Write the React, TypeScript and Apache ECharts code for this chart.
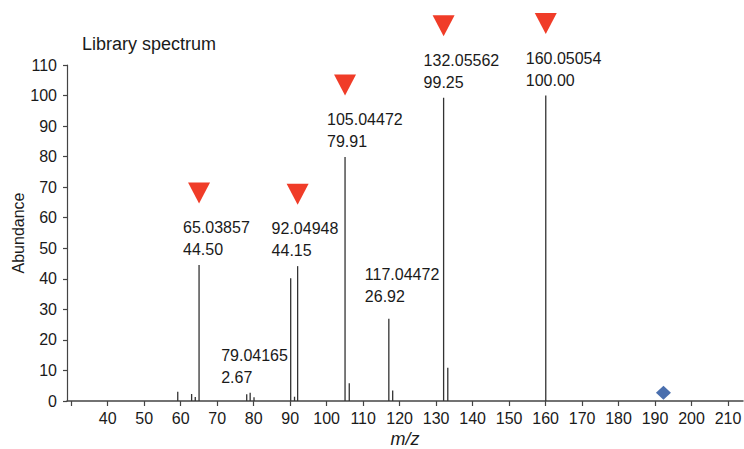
import React, { useEffect, useRef } from "react";
import * as echarts from "echarts";

// Stick spectrum: m/z and abundance (%)
const peakMz = [59.2, 63.0, 64.0, 65.03857, 78.1, 79.04165, 80.1, 90.15, 91.2, 92.04948, 105.04472, 106.2, 117.04472, 118.1, 132.05562, 133.2, 160.05054];
const peakAbundance = [3.0, 2.3, 1.3, 44.5, 2.2, 2.67, 1.2, 40.2, 1.4, 44.15, 79.91, 5.8, 26.92, 3.4, 99.25, 10.9, 100.0];

// Annotated peaks
const labelMz = [65.03857, 79.04165, 92.04948, 105.04472, 117.04472, 132.05562, 160.05054];
const labelAbundance = [44.5, 2.67, 44.15, 79.91, 26.92, 99.25, 100.0];

// Peaks flagged with a red marker
const markedMz = [65.03857, 92.04948, 105.04472, 132.05562, 160.05054];
const markedAbundance = [44.5, 44.15, 79.91, 99.25, 100.0];

// Precursor marker
const precursorMz = [192.3];
const precursorAbundance = [2.7];

const xTickValues = [30, 40, 50, 60, 70, 80, 90, 100, 110, 120, 130, 140, 150, 160, 170, 180, 190, 200, 210];
const xLabelValues = [40, 50, 60, 70, 80, 90, 100, 110, 120, 130, 140, 150, 160, 170, 180, 190, 200, 210];

// label horizontal shifts (px) and extra lift (px), layout only
const labelShiftX = [-16, -29, -26, -18, -24, -20, -20];
const labelLift = [0, 0, 0, 0, 7, 0, 0];

const NUM = "'Liberation Sans', Arial, sans-serif";
const SANS = "'Liberation Sans', Arial, sans-serif";

export default function App() {
  const ref = useRef<HTMLDivElement>(null);
  useEffect(() => {
    if (!ref.current) return;
    const chart = echarts.init(ref.current, null, { renderer: "svg" });
    const option: any = {
      animation: false,
      title: {
        text: "Library spectrum",
        left: 82,
        top: 35,
        padding: 0,
        textStyle: { fontFamily: SANS, fontSize: 18, fontWeight: "normal", color: "#1a1a1a" },
      },
      grid: { left: 67, right: 1, top: 65, bottom: 48, outerBoundsMode: "none", containLabel: false },
      xAxis: {
        type: "value",
        min: 28.85,
        max: 214.1,
        name: "m/z",
        nameLocation: "middle",
        nameGap: 29,
        nameMoveOverlap: false,
        nameTextStyle: { fontFamily: SANS, fontSize: 18, fontStyle: "italic", color: "#1a1a1a" },
        axisLine: { show: true, onZero: false, lineStyle: { color: "#444", width: 1.5 } },
        axisTick: { show: true, length: 5, customValues: xTickValues, lineStyle: { color: "#444", width: 1.2 } },
        axisLabel: { customValues: xLabelValues, margin: 9, fontFamily: NUM, fontSize: 16, color: "#1a1a1a" },
        splitLine: { show: false },
      },
      yAxis: {
        type: "value",
        min: 0,
        max: 110,
        interval: 10,
        name: "Abundance",
        nameLocation: "middle",
        nameGap: 41,
        nameMoveOverlap: false,
        nameTextStyle: { fontFamily: SANS, fontSize: 16, color: "#1a1a1a" },
        axisLine: { show: true, lineStyle: { color: "#444", width: 1.2 } },
        axisTick: { show: true, length: 4, lineStyle: { color: "#444", width: 1.2 } },
        axisLabel: { margin: 10, fontFamily: NUM, fontSize: 16, color: "#1a1a1a" },
        splitLine: { show: false },
      },
      series: [
        {
          type: "custom",
          data: peakMz.map((m, i) => [m, peakAbundance[i]]),
          encode: { x: 0, y: 1 },
          renderItem: (params: any, api: any) => {
            const x = api.value(0);
            const y = api.value(1);
            const p0 = api.coord([x, 0]);
            const p1 = api.coord([x, y]);
            return {
              type: "line",
              shape: { x1: p0[0], y1: p0[1], x2: p1[0], y2: p1[1] },
              style: { stroke: "#333", lineWidth: 1.3 },
            };
          },
          silent: true,
        },
        {
          type: "scatter",
          data: labelMz.map((m, i) => ({
            value: [m, labelAbundance[i]],
            label: {
              show: true,
              position: "top",
              distance: 0,
              align: "left",
              verticalAlign: "bottom",
              offset: [labelShiftX[i], -4.5 - labelLift[i]],
              formatter: () => `${m.toFixed(5)}\n${labelAbundance[i].toFixed(2)}`,
              fontFamily: NUM,
              fontSize: 16,
              lineHeight: 22,
              color: "#1a1a1a",
            },
          })),
          symbolSize: 0,
          itemStyle: { opacity: 1 },
          silent: true,
        },
        {
          type: "scatter",
          data: markedMz.map((m, i) => [m, markedAbundance[i]]),
          symbol: "triangle",
          symbolRotate: 180,
          symbolSize: [22, 21],
          symbolOffset: [0, -72],
          itemStyle: { color: "#f03c28", opacity: 1 },
          silent: true,
        },
        {
          type: "scatter",
          data: precursorMz.map((m, i) => [m, precursorAbundance[i]]),
          symbol: "diamond",
          symbolSize: [15, 14],
          itemStyle: { color: "#4a6fae", opacity: 1 },
          silent: true,
        },
      ],
    };
    chart.setOption(option);
    return () => chart.dispose();
  }, []);
  return <div ref={ref} style={{ width: 744, height: 449, position: "absolute", left: 0, top: 0 }} />;
}
